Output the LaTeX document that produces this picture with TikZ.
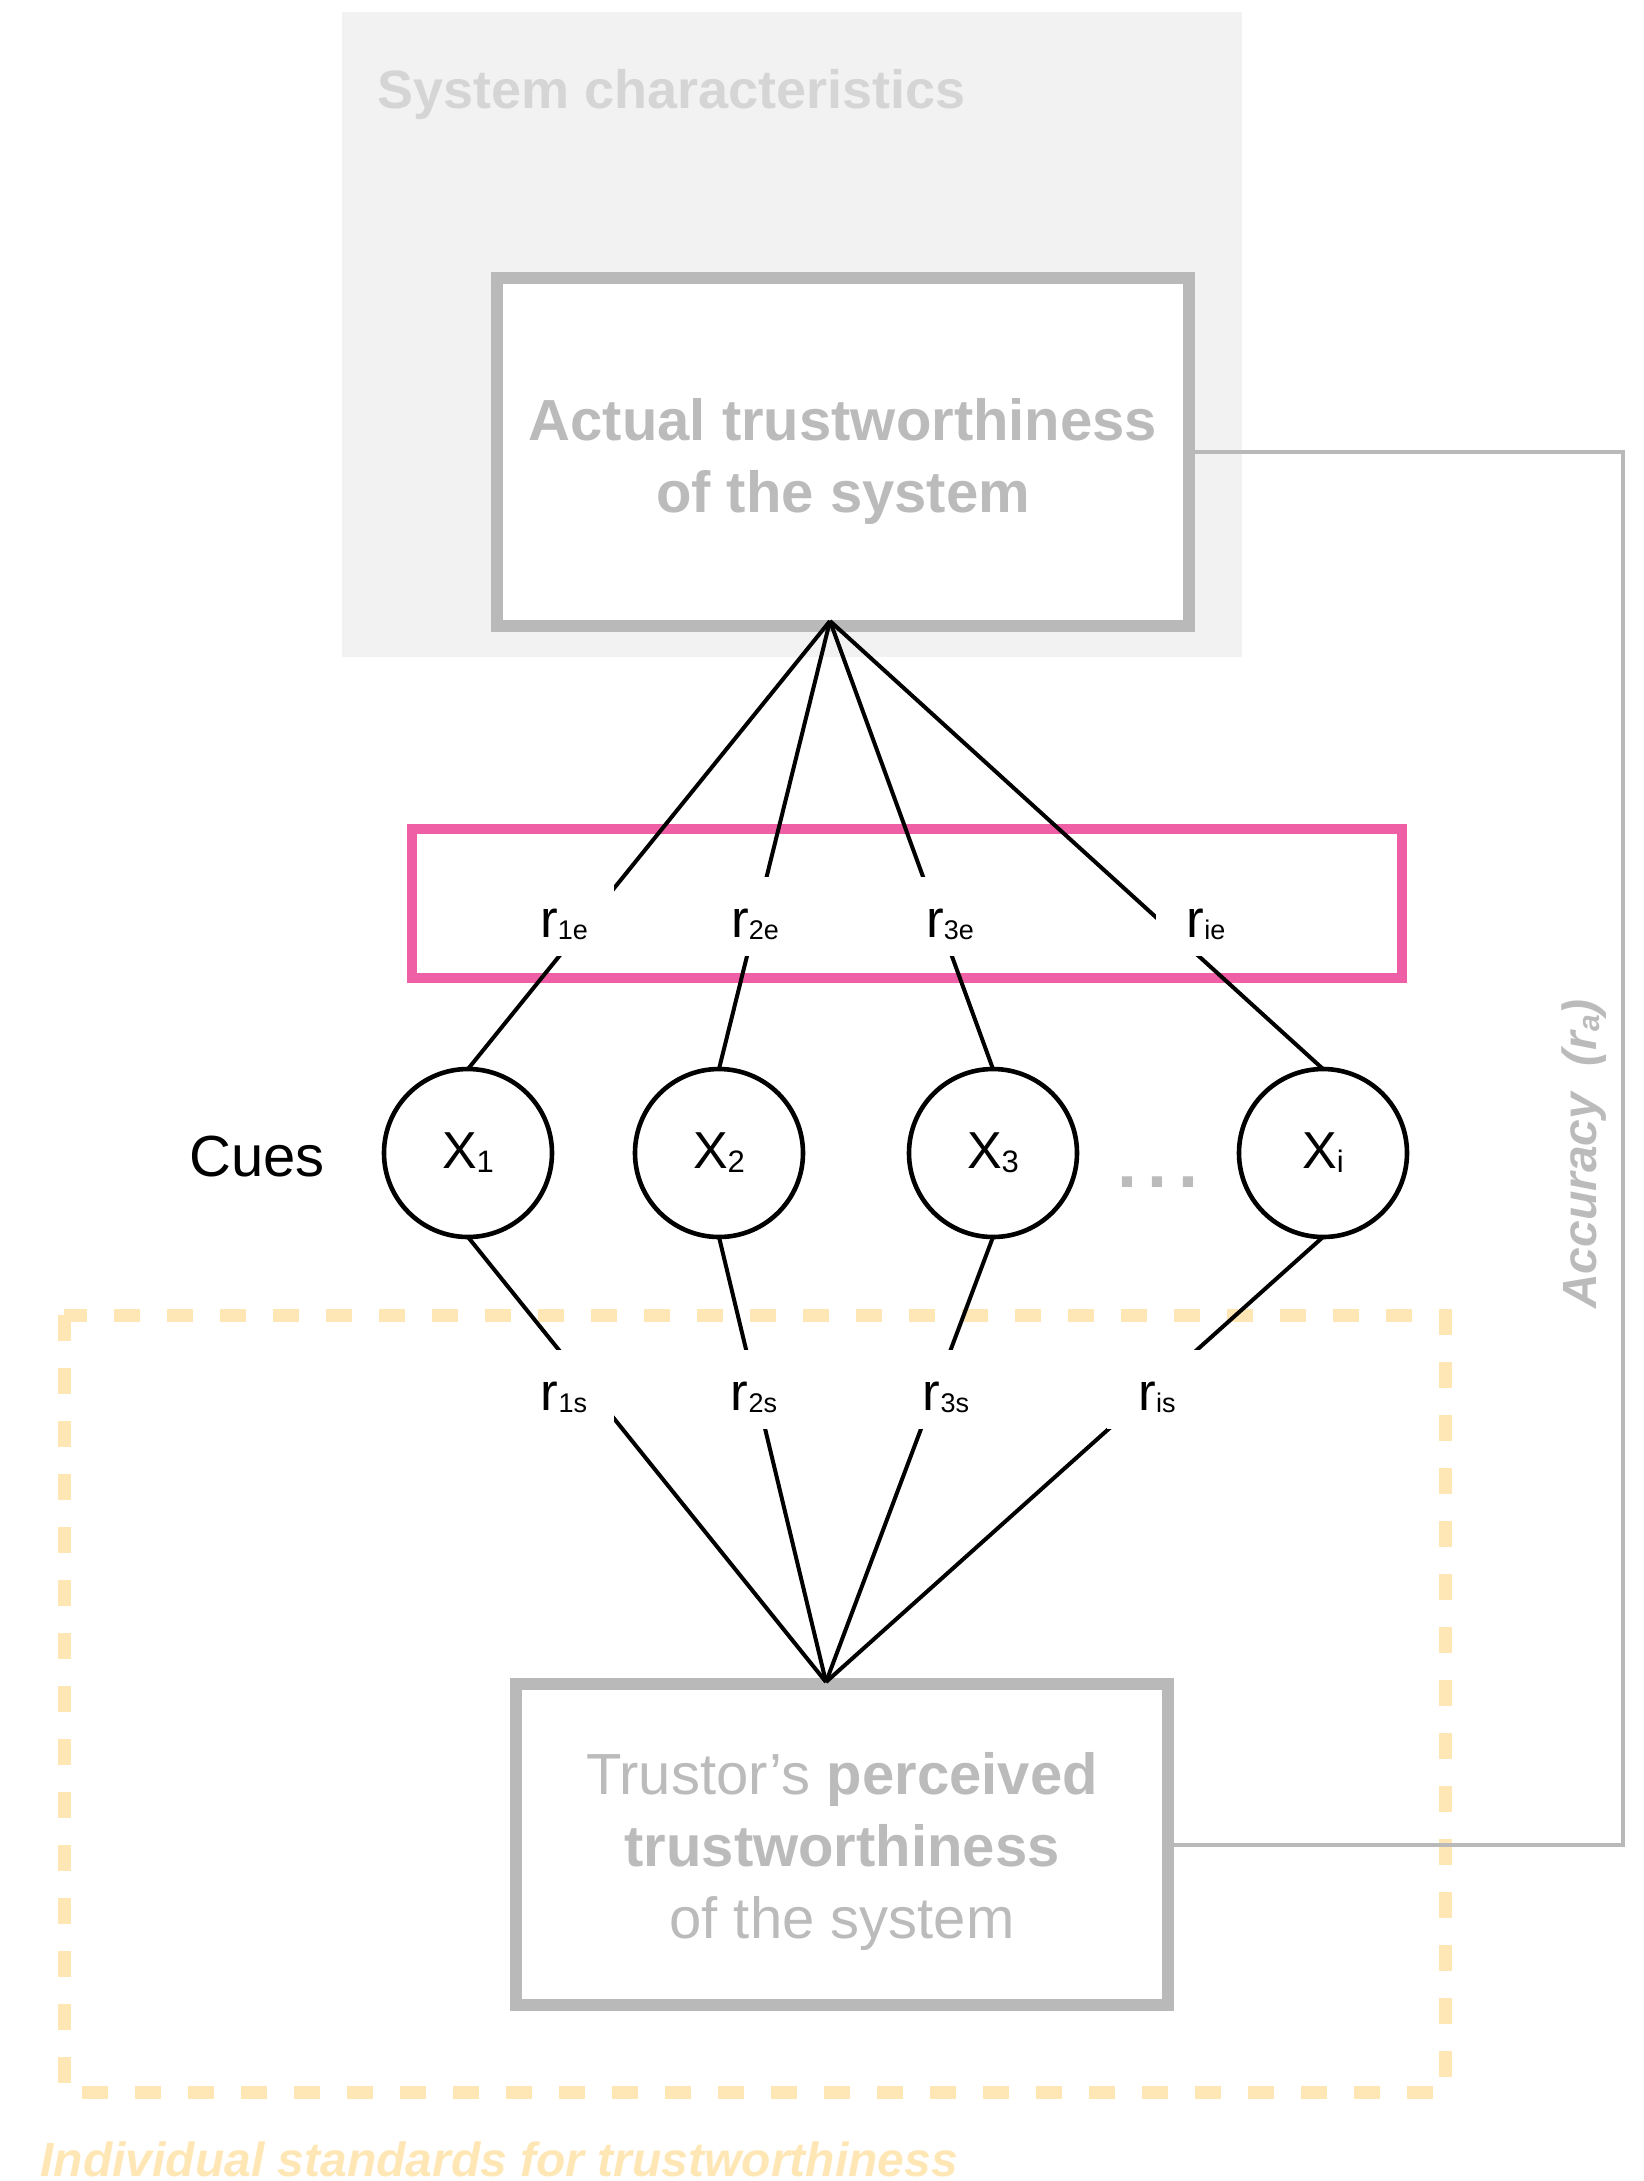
\documentclass[tikz,border=0pt]{standalone}
\usepackage{fontspec}
\setmainfont{Liberation Sans}
\usetikzlibrary{calc}

\definecolor{boxgray}{HTML}{B9B9B9}
\definecolor{labgray}{HTML}{BBBBBB}
\definecolor{sysgray}{HTML}{D5D5D5}
\definecolor{panel}{HTML}{F2F2F2}
\definecolor{cuepink}{HTML}{EE5FA6}
\definecolor{stdyellow}{HTML}{FFE7B5}

% lowered indices for the coefficient and cue labels
\newcommand{\coefidx}[1]{\raisebox{-1pt}{\fontsize{13.5pt}{14pt}\selectfont #1}}
\newcommand{\cueidx}[1]{\raisebox{-2pt}{\fontsize{15.5pt}{16pt}\selectfont #1}}

\tikzset{
  bigbox/.style={draw=boxgray, line width=6pt, fill=white, outer sep=0pt, inner sep=0pt},
  boxtext/.style={anchor=base, text=labgray, inner sep=0pt, font=\fontsize{29pt}{36pt}\selectfont},
  cue/.style={circle, draw=black, line width=2.3pt, fill=white, minimum size=84pt,
    inner sep=0pt, outer sep=0pt, font=\fontsize{26pt}{30pt}\selectfont},
  link/.style={line width=2pt, black},
  coef/.style={fill=white, anchor=base, minimum width=50pt, text height=21pt, text depth=0.5pt,
    inner xsep=0pt, inner ysep=9pt, font=\fontsize{26.5pt}{30pt}\selectfont},
  rail/.style={draw=boxgray, line width=2pt},
}

\begin{document}
\begin{tikzpicture}[x=0.5pt, y=-0.5pt]
\useasboundingbox (0,0) rectangle (1644,2181);

% system characteristics panel
\fill[panel] (342,12) rectangle (1242,657);
\node[anchor=base west, inner sep=0pt, text=sysgray, font=\bfseries\fontsize{27pt}{32pt}\selectfont]
  (syslabel) at (377,108) {System characteristics};

% individual standards frame
\draw[stdyellow, line width=6.5pt, dash pattern=on 13pt off 13.5pt] (64,1315) rectangle (1445,2092);
\node[anchor=base west, inner sep=0pt, text=stdyellow, font=\bfseries\itshape\fontsize{24pt}{28pt}\selectfont]
  (stdlabel) at (40,2176) {Individual standards for trustworthiness};

% the two trustworthiness boxes
\node[bigbox, minimum width=346pt, minimum height=174pt] (actual) at (843,452) {};
\node[boxtext, font=\bfseries\fontsize{29pt}{36pt}\selectfont] (actual1) at (843,440) {Actual trustworthiness};
\node[boxtext, font=\bfseries\fontsize{29pt}{36pt}\selectfont] (actual2) at (843,512) {of the system};

\node[bigbox, minimum width=326pt, minimum height=160.5pt] (trustor) at (842,1844.5) {};
\node[boxtext] (trustor1) at (842,1794) {Trustor’s \textbf{perceived}};
\node[boxtext, font=\bfseries\fontsize{29pt}{36pt}\selectfont] (trustor2) at (842,1866) {trustworthiness};
\node[boxtext] (trustor3) at (842,1938) {of the system};

% accuracy connector
\coordinate (railx) at (1623,0);
\draw[rail] (actual.east) -- (actual.east -| railx) -- (trustor.east -| railx) -- (trustor.east);
\node[rotate=90, inner sep=0pt, text=labgray, font=\bfseries\itshape\fontsize{24pt}{28pt}\selectfont]
  (acclabel) at (1584,1154) {Accuracy\hspace{0.55em}(r\raisebox{-1.5pt}{\fontsize{15pt}{15pt}\selectfont a})};

% ecological validity band
\draw[cuepink, line width=5pt] (412,829) rectangle (1402,978);

% cues
\node[anchor=base, inner sep=0pt, font=\fontsize{29pt}{34pt}\selectfont] (cues) at (257,1176) {Cues};
\node[cue] (x1) at (468,1153) {X\cueidx{1}};
\node[cue] (x2) at (719,1153) {X\cueidx{2}};
\node[cue] (x3) at (993,1153) {X\cueidx{3}};
\node[cue] (xi) at (1323,1153) {X\cueidx{i}};
\node[anchor=base, inner sep=0pt, text=labgray, font=\bfseries\fontsize{36pt}{40pt}\selectfont]
  (dots) at (1158,1187) {.\kern5.5pt.\kern5.5pt.};

% cue links
\coordinate (apexT) at (830,621);
\coordinate (apexB) at (826,1682);
\foreach \n in {1,2,3,i} {
  \draw[link] (apexT) -- (x\n.north);
  \draw[link] (x\n.south) -- (apexB);
}

% correlation labels
\node[coef] (r1e) at (564,937) {r\coefidx{1e}};
\node[coef] (r2e) at (755,937) {r\coefidx{2e}};
\node[coef] (r3e) at (950,937) {r\coefidx{3e}};
\node[coef] (rie) at (1206,937) {r\coefidx{ie}};
\node[coef] (r1s) at (564,1410) {r\coefidx{1s}};
\node[coef] (r2s) at (754,1410) {r\coefidx{2s}};
\node[coef] (r3s) at (946,1410) {r\coefidx{3s}};
\node[coef] (ris) at (1157,1410) {r\coefidx{is}};
\end{tikzpicture}
\end{document}
